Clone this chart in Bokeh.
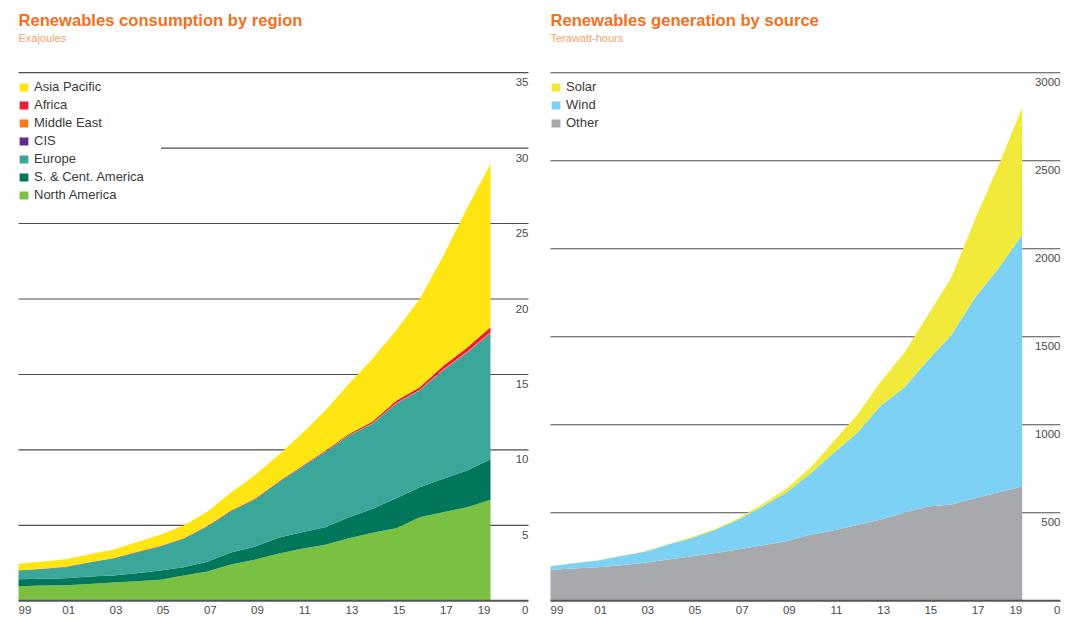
from bokeh.plotting import figure
from bokeh.models import ColumnDataSource, Range1d, Legend, LegendItem
from bokeh.layouts import row
from bokeh.embed import file_html
from bokeh.resources import INLINE
from bokeh.core.properties import value

# ---------------- data ----------------
years = list(range(1999, 2020))

# Renewables consumption by region (Exajoules)
north_america = [0.97, 1.01, 1.03, 1.12, 1.21, 1.30, 1.39, 1.68, 1.94, 2.41, 2.72,
                 3.11, 3.45, 3.71, 4.15, 4.51, 4.81, 5.54, 5.87, 6.20, 6.69]
sc_america = [0.46, 0.45, 0.47, 0.49, 0.47, 0.53, 0.62, 0.55, 0.64, 0.79, 0.86,
              1.06, 1.10, 1.17, 1.39, 1.59, 1.98, 1.99, 2.21, 2.43, 2.69]
europe = [0.58, 0.64, 0.73, 0.93, 1.12, 1.37, 1.59, 1.88, 2.34, 2.74, 3.12,
          3.65, 4.30, 4.97, 5.41, 5.63, 6.26, 6.41, 7.18, 7.77, 8.31]
cis = [0.00, 0.00, 0.00, 0.00, 0.00, 0.00, 0.00, 0.00, 0.00, 0.00, 0.00,
       0.01, 0.01, 0.01, 0.01, 0.01, 0.02, 0.02, 0.03, 0.04, 0.05]
middle_east = [0.00, 0.00, 0.00, 0.00, 0.00, 0.00, 0.00, 0.00, 0.00, 0.00, 0.00,
               0.00, 0.00, 0.01, 0.01, 0.02, 0.03, 0.03, 0.05, 0.06, 0.07]
africa = [0.02, 0.02, 0.02, 0.02, 0.02, 0.03, 0.03, 0.03, 0.03, 0.04, 0.05,
          0.05, 0.06, 0.07, 0.08, 0.13, 0.16, 0.17, 0.24, 0.27, 0.32]
asia_pacific = [0.42, 0.48, 0.51, 0.53, 0.56, 0.65, 0.74, 0.85, 0.95, 1.20, 1.55,
                1.75, 2.15, 2.67, 3.33, 4.15, 4.65, 5.84, 7.27, 9.23, 10.81]

# Renewables generation by source (Terawatt-hours)
other = [176, 183, 191, 202, 216, 235, 253, 271, 293, 316, 339,
         375, 399, 430, 462, 500, 536, 547, 583, 617, 649]
wind = [21, 31, 38, 52, 63, 85, 104, 133, 171, 221, 276,
        346, 441, 524, 646, 712, 831, 963, 1140, 1273, 1430]
solar = [1, 1, 1, 2, 3, 3, 5, 6, 8, 13, 21,
         34, 65, 101, 137, 197, 256, 328, 445, 585, 724]

region_names = ["North America", "S. & Cent. America", "Europe", "CIS",
                "Middle East", "Africa", "Asia Pacific"]
region_colors = ["#7AC143", "#00775A", "#3AA79A", "#662D91",
                 "#F47B20", "#ED1C36", "#FFE512"]
source_names = ["Other", "Wind", "Solar"]
source_colors = ["#A7A9AC", "#7DD1F4", "#F1EA3A"]

x_tick_years = [1999, 2001, 2003, 2005, 2007, 2009, 2011, 2013, 2015, 2017, 2019]
x_tick_labels = ["99", "01", "03", "05", "07", "09", "11", "13", "15", "17", "19"]
left_y_ticks = [0, 5, 10, 15, 20, 25, 30, 35]
left_y_labels = ["0", "5", "10", "15", "20", "25", "30", "35"]
right_y_ticks = [0, 500, 1000, 1500, 2000, 2500, 3000]
right_y_labels = ["0", "500", "1000", "1500", "2000", "2500", "3000"]

FONT = "Liberation Sans"
H = 622
TITLE_C = "#F37021"
SUB_C = "#F6A26A"
TXT_C = "#3a3a3a"
TICK_C = "#4a4a4a"
GRID_C = "#4d4d4d"


def make_panel(width, year0_px, px_per_year, zero_py, px_per_unit):
    x0 = years[0] - year0_px / px_per_year
    x1 = x0 + width / px_per_year
    y1 = zero_py / px_per_unit
    y0 = y1 - H / px_per_unit
    p = figure(width=width, height=H, x_range=Range1d(x0, x1), y_range=Range1d(y0, y1),
               output_backend="svg", toolbar_location=None, min_border=0,
               x_axis_location=None, y_axis_location=None)
    p.grid.visible = False
    p.outline_line_color = None
    p.background_fill_color = "white"
    p.border_fill_color = "white"
    px2x = lambda px: x0 + px / px_per_year
    py2y = lambda py: y1 - py / px_per_unit
    return p, px2x, py2y


def build(width, year0_px, px_per_year, zero_py, px_per_unit, grid_end_px,
          data, names, colors, yticks, ylabels, title, subtitle, legend_loc, legend_lw):
    p, px2x, py2y = make_panel(width, year0_px, px_per_year, zero_py, px_per_unit)
    gx1 = px2x(grid_end_px)
    # gridlines (under areas)
    gt = yticks[1:]
    p.segment(x0=[years[0]] * len(gt), y0=gt, x1=[gx1] * len(gt), y1=gt,
              line_color=GRID_C, line_width=1.1)
    src = ColumnDataSource(dict(year=years, **{n: v for n, v in zip(names, data)}))
    rends = p.varea_stack(stackers=names, x="year", source=src, color=colors)
    # baseline
    p.segment(x0=[years[0]], y0=[yticks[0]], x1=[gx1], y1=[yticks[0]],
              line_color="#555555", line_width=2)
    # y tick labels (below each gridline, right aligned)
    p.text(x=[gx1] * len(yticks), y=yticks, text=ylabels, text_align="right",
           text_baseline="middle", y_offset=9.5, text_font=value(FONT),
           text_font_size="11.5px", text_color=TICK_C)
    # x tick labels
    lab_kw = dict(text_baseline="middle", y_offset=9.5, text_font=value(FONT),
                  text_font_size="11.5px", text_color=TICK_C)
    p.text(x=x_tick_years[:1], y=[yticks[0]], text=x_tick_labels[:1], text_align="left", **lab_kw)
    p.text(x=x_tick_years[1:-1], y=[yticks[0]] * (len(x_tick_years) - 2),
           text=x_tick_labels[1:-1], text_align="center", x_offset=3, **lab_kw)
    p.text(x=x_tick_years[-1:], y=[yticks[0]], text=x_tick_labels[-1:], text_align="right", **lab_kw)
    # titles
    p.text(x=[years[0]], y=[py2y(20)], text=[title], text_font=value(FONT),
           text_font_style="bold", text_font_size="16.6px", text_color=TITLE_C,
           text_baseline="middle", text_align="left")
    p.text(x=[years[0]], y=[py2y(37)], text=[subtitle], text_font=value(FONT),
           text_font_size="11px", text_color=SUB_C,
           text_baseline="middle", text_align="left")
    # legend (top item first)
    items = [LegendItem(label=n, renderers=[r]) for n, r in zip(names, rends)][::-1]
    leg = Legend(items=items, location=legend_loc, padding=0, margin=0, spacing=3,
                 glyph_width=11, glyph_height=10, label_height=15, label_standoff=5,
                 label_width=legend_lw, label_text_font=FONT, label_text_font_size="13px",
                 label_text_color=TXT_C, border_line_color=None,
                 background_fill_color="white", background_fill_alpha=1.0)
    p.add_layout(leg)
    return p


left_data = [north_america, sc_america, europe, cis, middle_east, africa, asia_pacific]
right_data = [other, wind, solar]

p1 = build(540, 18, 23.6, 600.3, 15.09, 528, left_data, region_names, region_colors,
           left_y_ticks, left_y_labels, "Renewables consumption by region", "Exajoules",
           (18, 420), 127)
p2 = build(543, 10, 23.585, 600.3, 0.176, 520, right_data, source_names, source_colors,
           right_y_ticks, right_y_labels, "Renewables generation by source", "Terawatt-hours",
           (10, 492), 60)

layout = row(p1, p2, spacing=0)
open("out.html", "w").write(file_html(layout, INLINE))
